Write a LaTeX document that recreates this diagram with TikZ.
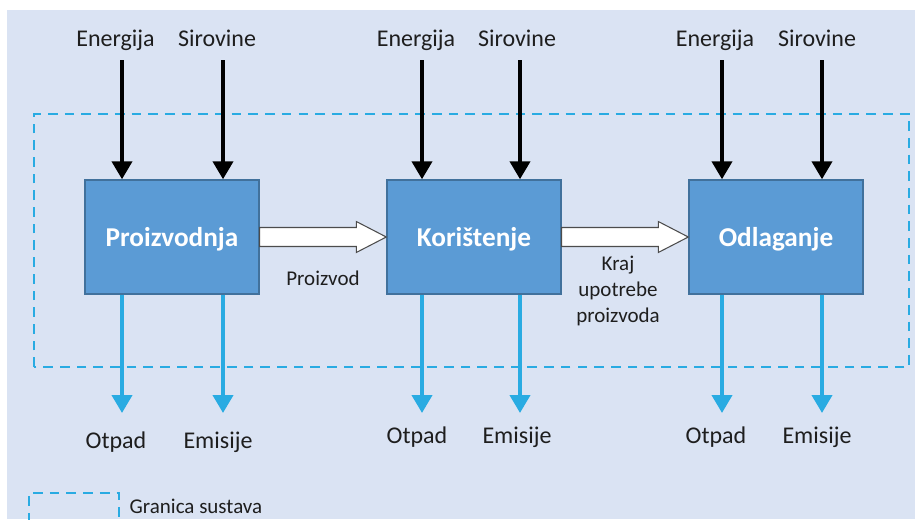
\documentclass[tikz,border=0pt]{standalone}
\usepackage{fontspec}
\setmainfont{Carlito}
\usetikzlibrary{calc}
\usetikzlibrary{arrows, arrows.meta}
\definecolor{bgblue}{RGB}{218,227,243}
\definecolor{boxblue}{RGB}{91,155,213}
\definecolor{boxedge}{RGB}{65,113,156}
\definecolor{flowblue}{RGB}{41,171,226}
\definecolor{txtgray}{RGB}{30,30,30}
\def\hollowarrow(#1)(#2){\draw[line width=0.6pt,draw=black!70,fill=white] ($(#1)+(0,0.19)$)--($(#2)+(-0.6,0.19)$)--($(#2)+(-0.6,0.31)$)--(#2)--($(#2)+(-0.6,-0.31)$)--($(#2)+(-0.6,-0.19)$)--($(#1)+(0,-0.19)$)--cycle;}

\begin{document}
\begin{tikzpicture}[font=\fontsize{13.66}{16}\selectfont,text=txtgray,
	procbox/.style={draw=boxedge,fill=boxblue,line width=0.8pt,minimum width=3.48cm,minimum height=2.28cm,text=white,text depth=0pt,font=\bfseries\fontsize{15.5}{18}\selectfont},
	inflow/.style={line width=2.3pt,-{Triangle[length=3.6mm,width=4mm]}},
	outflow/.style={flowblue,line width=2.3pt,-{Triangle[length=3.6mm,width=4mm]}},
	boundary/.style={flowblue,line width=1.1pt,dash pattern=on 5.5pt off 4pt},
	smalltxt/.style={font=\fontsize{11.95}{14.8}\selectfont}]
	\useasboundingbox (0,0) rectangle (18.3,10.38);
	\clip (0,0) rectangle (18.3,10.38);
	\fill[bgblue] (0.14,0) rectangle (18.3,10.18);
	
	%SYSTEM BOUNDARY
	\draw[boundary] (0.68,3.04) rectangle (18.18,8.10);
	
	%PROCESS BOXES
	\node[procbox] (proizvodnja) at (3.44,5.64) {Proizvodnja};
	\node[procbox] (koristenje) at (9.48,5.64) {Korištenje};
	\node[procbox] (odlaganje) at (15.52,5.64) {Odlaganje};
	
	%PRODUCT FLOW
	\hollowarrow(proizvodnja.east)(koristenje.west)
	\hollowarrow(koristenje.east)(odlaganje.west)
	\node[smalltxt,anchor=base] (proizvod) at (6.46,4.68) {Proizvod};
	\node[smalltxt,align=center] (kraj) at (12.36,4.56) {Kraj \\ upotrebe \\ proizvoda};
	
	%INPUTS
	\node[anchor=base] (energija1) at (2.31,9.45) {Energija};
	\node[anchor=base] (sirovine1) at (4.34,9.45) {Sirovine};
	\node[anchor=base] (energija2) at (8.32,9.45) {Energija};
	\node[anchor=base] (sirovine2) at (10.34,9.45) {Sirovine};
	\node[anchor=base] (energija3) at (14.30,9.45) {Energija};
	\node[anchor=base] (sirovine3) at (16.34,9.45) {Sirovine};
	%
	\coordinate (e1) at (2.44,9.18);	\coordinate (s1) at (4.46,9.18);
	\coordinate (e2) at (8.44,9.18);	\coordinate (s2) at (10.40,9.18);
	\coordinate (e3) at (14.44,9.18);	\coordinate (s3) at (16.44,9.18);
	\draw[inflow] (e1)--(e1 |- proizvodnja.north);
	\draw[inflow] (s1)--(s1 |- proizvodnja.north);
	\draw[inflow] (e2)--(e2 |- koristenje.north);
	\draw[inflow] (s2)--(s2 |- koristenje.north);
	\draw[inflow] (e3)--(e3 |- odlaganje.north);
	\draw[inflow] (s3)--(s3 |- odlaganje.north);
	
	%OUTPUTS
	\coordinate (o1) at (2.44,2.12);	\coordinate (m1) at (4.46,2.12);
	\coordinate (o2) at (8.44,2.12);	\coordinate (m2) at (10.40,2.12);
	\coordinate (o3) at (14.44,2.12);	\coordinate (m3) at (16.44,2.12);
	\draw[outflow] (o1 |- proizvodnja.south)--(o1);
	\draw[outflow] (m1 |- proizvodnja.south)--(m1);
	\draw[outflow] (o2 |- koristenje.south)--(o2);
	\draw[outflow] (m2 |- koristenje.south)--(m2);
	\draw[outflow] (o3 |- odlaganje.south)--(o3);
	\draw[outflow] (m3 |- odlaganje.south)--(m3);
	%
	\node[anchor=base] (otpad1) at (2.32,1.41) {Otpad};
	\node[anchor=base] (emisije1) at (4.36,1.41) {Emisije};
	\node[anchor=base] (otpad2) at (8.34,1.51) {Otpad};
	\node[anchor=base] (emisije2) at (10.34,1.51) {Emisije};
	\node[anchor=base] (otpad3) at (14.32,1.51) {Otpad};
	\node[anchor=base] (emisije3) at (16.34,1.51) {Emisije};
	
	%LEGEND
	\draw[boundary] (0.58,-0.4) rectangle (2.38,0.52);
	\node[smalltxt,anchor=base west] (granica) at (2.47,0.11) {Granica sustava};
\end{tikzpicture}
\end{document}
